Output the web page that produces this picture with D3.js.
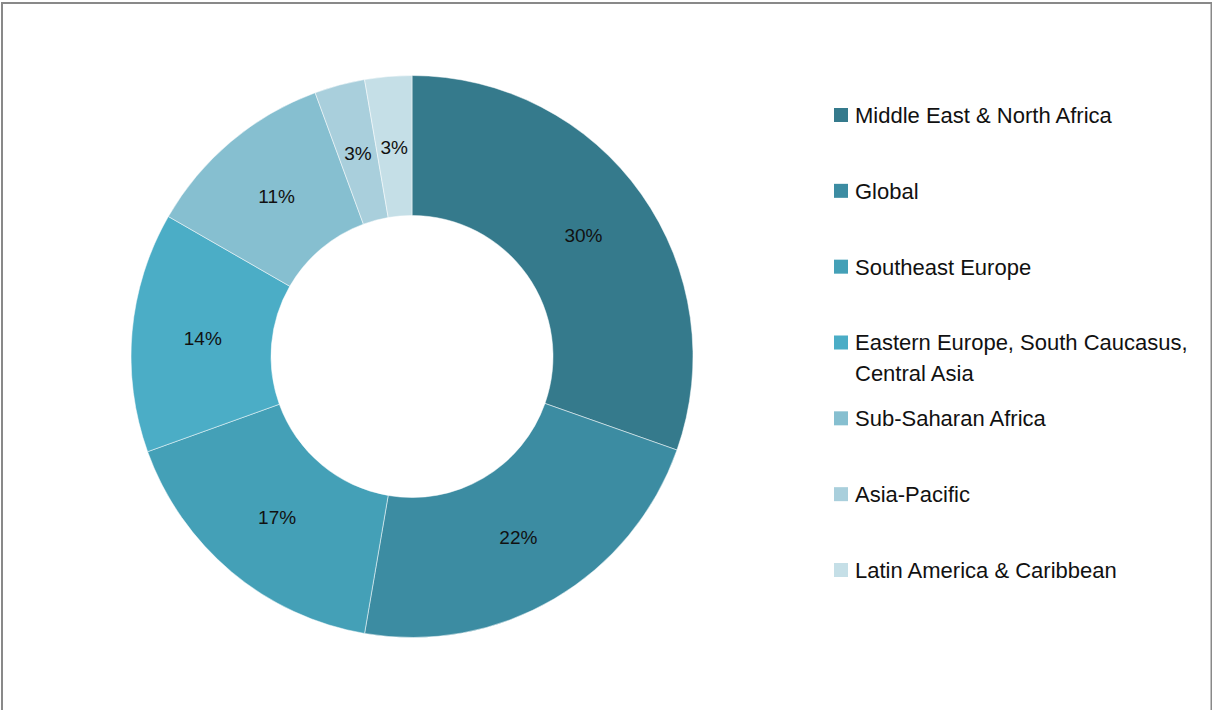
<!DOCTYPE html>
<html>
<head>
<meta charset="utf-8">
<title>Donut by region</title>
<script src="https://d3js.org/d3.v7.min.js"></script>
<style>
  body { margin: 0; background: #fff; }
  svg { display: block; font-family: "Liberation Sans", Arial, sans-serif; }
</style>
</head>
<body>
<script>
// values (share of total, %)
var regions = ["Middle East & North Africa", "Global", "Southeast Europe",
               "Eastern Europe, South Caucasus, Central Asia", "Sub-Saharan Africa",
               "Asia-Pacific", "Latin America & Caribbean"];
var shares = [30.4, 22.3, 16.8, 13.8, 11.1, 2.9, 2.7];
var colors = ["#357a8c", "#3c8ca2", "#44a0b7", "#4badc6", "#86bfd0", "#a9cfdc", "#c5dfe7"];
var legendLines = [["Middle East & North Africa"], ["Global"], ["Southeast Europe"],
                   ["Eastern Europe, South Caucasus,", "Central Asia"], ["Sub-Saharan Africa"],
                   ["Asia-Pacific"], ["Latin America & Caribbean"]];

var width = 1212, height = 710;
var cx = 412, cy = 356.5, outerR = 281, innerR = 141;

var svg = d3.select("body").append("svg")
    .attr("width", width)
    .attr("height", height);

// frame (bottom edge is cut off in the original)
svg.append("rect")
    .attr("x", 2).attr("y", 3)
    .attr("width", 1209.5).attr("height", 800)
    .attr("fill", "none")
    .attr("stroke", "#898989")
    .attr("stroke-width", 2);

var data = regions.map((r, i) => ({region: r, value: shares[i], color: colors[i]}));
var total = d3.sum(shares);

var pie = d3.pie().sort(null).value(d => d.value);
var arc = d3.arc().innerRadius(innerR).outerRadius(outerR);
var labelArc = d3.arc().innerRadius(210).outerRadius(210);

var g = svg.append("g").attr("transform", `translate(${cx},${cy})`);
var arcs = pie(data);

g.selectAll("path")
    .data(arcs)
    .join("path")
    .attr("d", arc)
    .attr("fill", d => d.data.color)
    .attr("stroke", "#ffffff")
    .attr("stroke-width", 0.5);

g.selectAll("text")
    .data(arcs)
    .join("text")
    .attr("transform", d => `translate(${labelArc.centroid(d)})`)
    .attr("text-anchor", "middle")
    .attr("dy", "0.35em")
    .style("font-size", "19px")
    .attr("fill", "#111")
    .text(d => Math.round(d.data.value / total * 100) + "%");

// legend
var legendY = d3.scalePoint().domain(regions).range([115, 570]);

var legend = svg.selectAll(".legend")
    .data(data)
    .join("g")
    .attr("class", "legend")
    .attr("transform", d => `translate(834,${legendY(d.region)})`);

legend.append("rect")
    .attr("x", 0).attr("y", -7)
    .attr("width", 14).attr("height", 14)
    .attr("fill", d => d.color);

legend.append("text")
    .attr("x", 21)
    .attr("y", 0)
    .style("font-size", "22px")
    .attr("fill", "#111")
    .selectAll("tspan")
    .data((d, i) => legendLines[i])
    .join("tspan")
    .attr("x", 21)
    .attr("dy", (t, j) => j == 0 ? "0.36em" : "31px")
    .text(t => t);
</script>
</body>
</html>
